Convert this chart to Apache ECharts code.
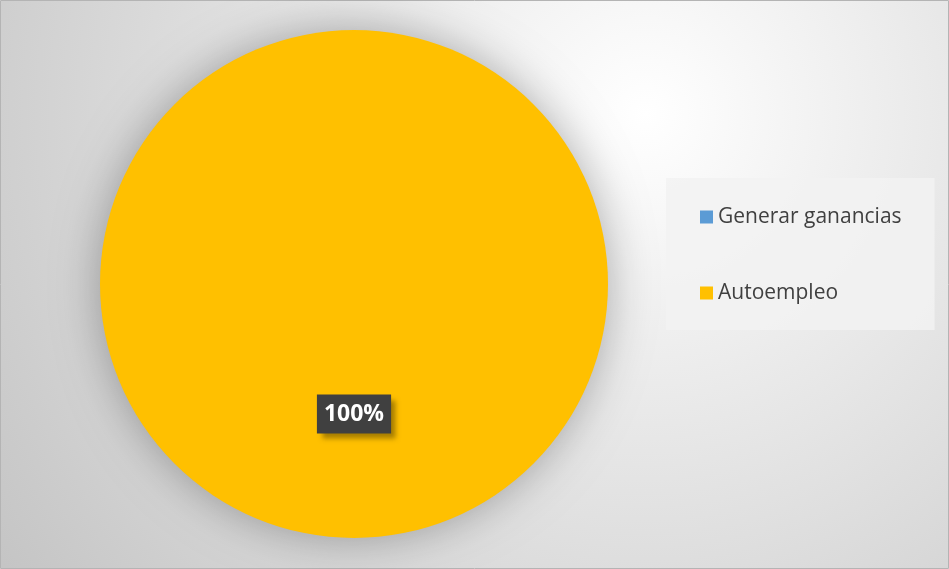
<!DOCTYPE html>
<html>
<head>
<meta charset="utf-8">
<script src="https://cdn.jsdelivr.net/npm/echarts@6/dist/echarts.min.js"></script>
<style>
  html, body { margin: 0; padding: 0; }
  #chart { width: 949px; height: 569px; }
</style>
</head>
<body>
<div id="chart"></div>
<script>
// Share of responses per motive (percent)
const categories = ['Generar ganancias', 'Autoempleo'];
const values = [0, 100];
const colors = ['#5B9BD5', '#FFC000'];

const chart = echarts.init(document.getElementById('chart'), null, { renderer: 'canvas' });

const data = categories.map((name, i) => ({
  name: name,
  value: values[i],
  itemStyle: { color: colors[i] },
  label: { show: values[i] > 0 }
}));

chart.setOption({
  animation: false,
  graphic: [{
    type: 'rect',
    z: -10,
    silent: true,
    shape: { x: 0.5, y: 0.5, width: 948, height: 568 },
    style: {
      fill: {
        type: 'radial', x: 0.68, y: 0.2, r: 1.4,
        colorStops: [
          { offset: 0, color: '#ffffff' },
          { offset: 1, color: '#c4c4c4' }
        ]
      },
      stroke: '#b4b4b4',
      lineWidth: 1
    }
  }],
  legend: {
    orient: 'vertical',
    left: 666,
    top: 178,
    data: categories,
    icon: 'rect',
    itemWidth: 13,
    itemHeight: 13,
    itemGap: 50,
    padding: [26, 33, 24, 34],
    backgroundColor: 'rgba(242,242,242,0.85)',
    textStyle: {
      color: '#404040',
      fontSize: 21,
      lineHeight: 26,
      fontFamily: 'Open Sans'
    },
    selectedMode: false
  },
  series: [{
    type: 'pie',
    center: [354, 284],
    radius: [0, 254],
    startAngle: 90,
    clockwise: true,
    stillShowZeroSum: true,
    labelLine: { show: false },
    itemStyle: {
      shadowBlur: 45,
      shadowColor: 'rgba(0,0,0,0.3)'
    },
    emphasis: { disabled: true },
    label: {
      position: 'inside',
      formatter: '{d}%',
      color: '#ffffff',
      fontSize: 23,
      fontWeight: 'bold',
      fontFamily: 'Open Sans',
      backgroundColor: '#404040',
      padding: [10, 7, 6, 7],
      shadowColor: 'rgba(0,0,0,0.35)',
      shadowBlur: 5,
      shadowOffsetX: 5,
      shadowOffsetY: 5
    },
    data: data
  }]
});
</script>
</body>
</html>
